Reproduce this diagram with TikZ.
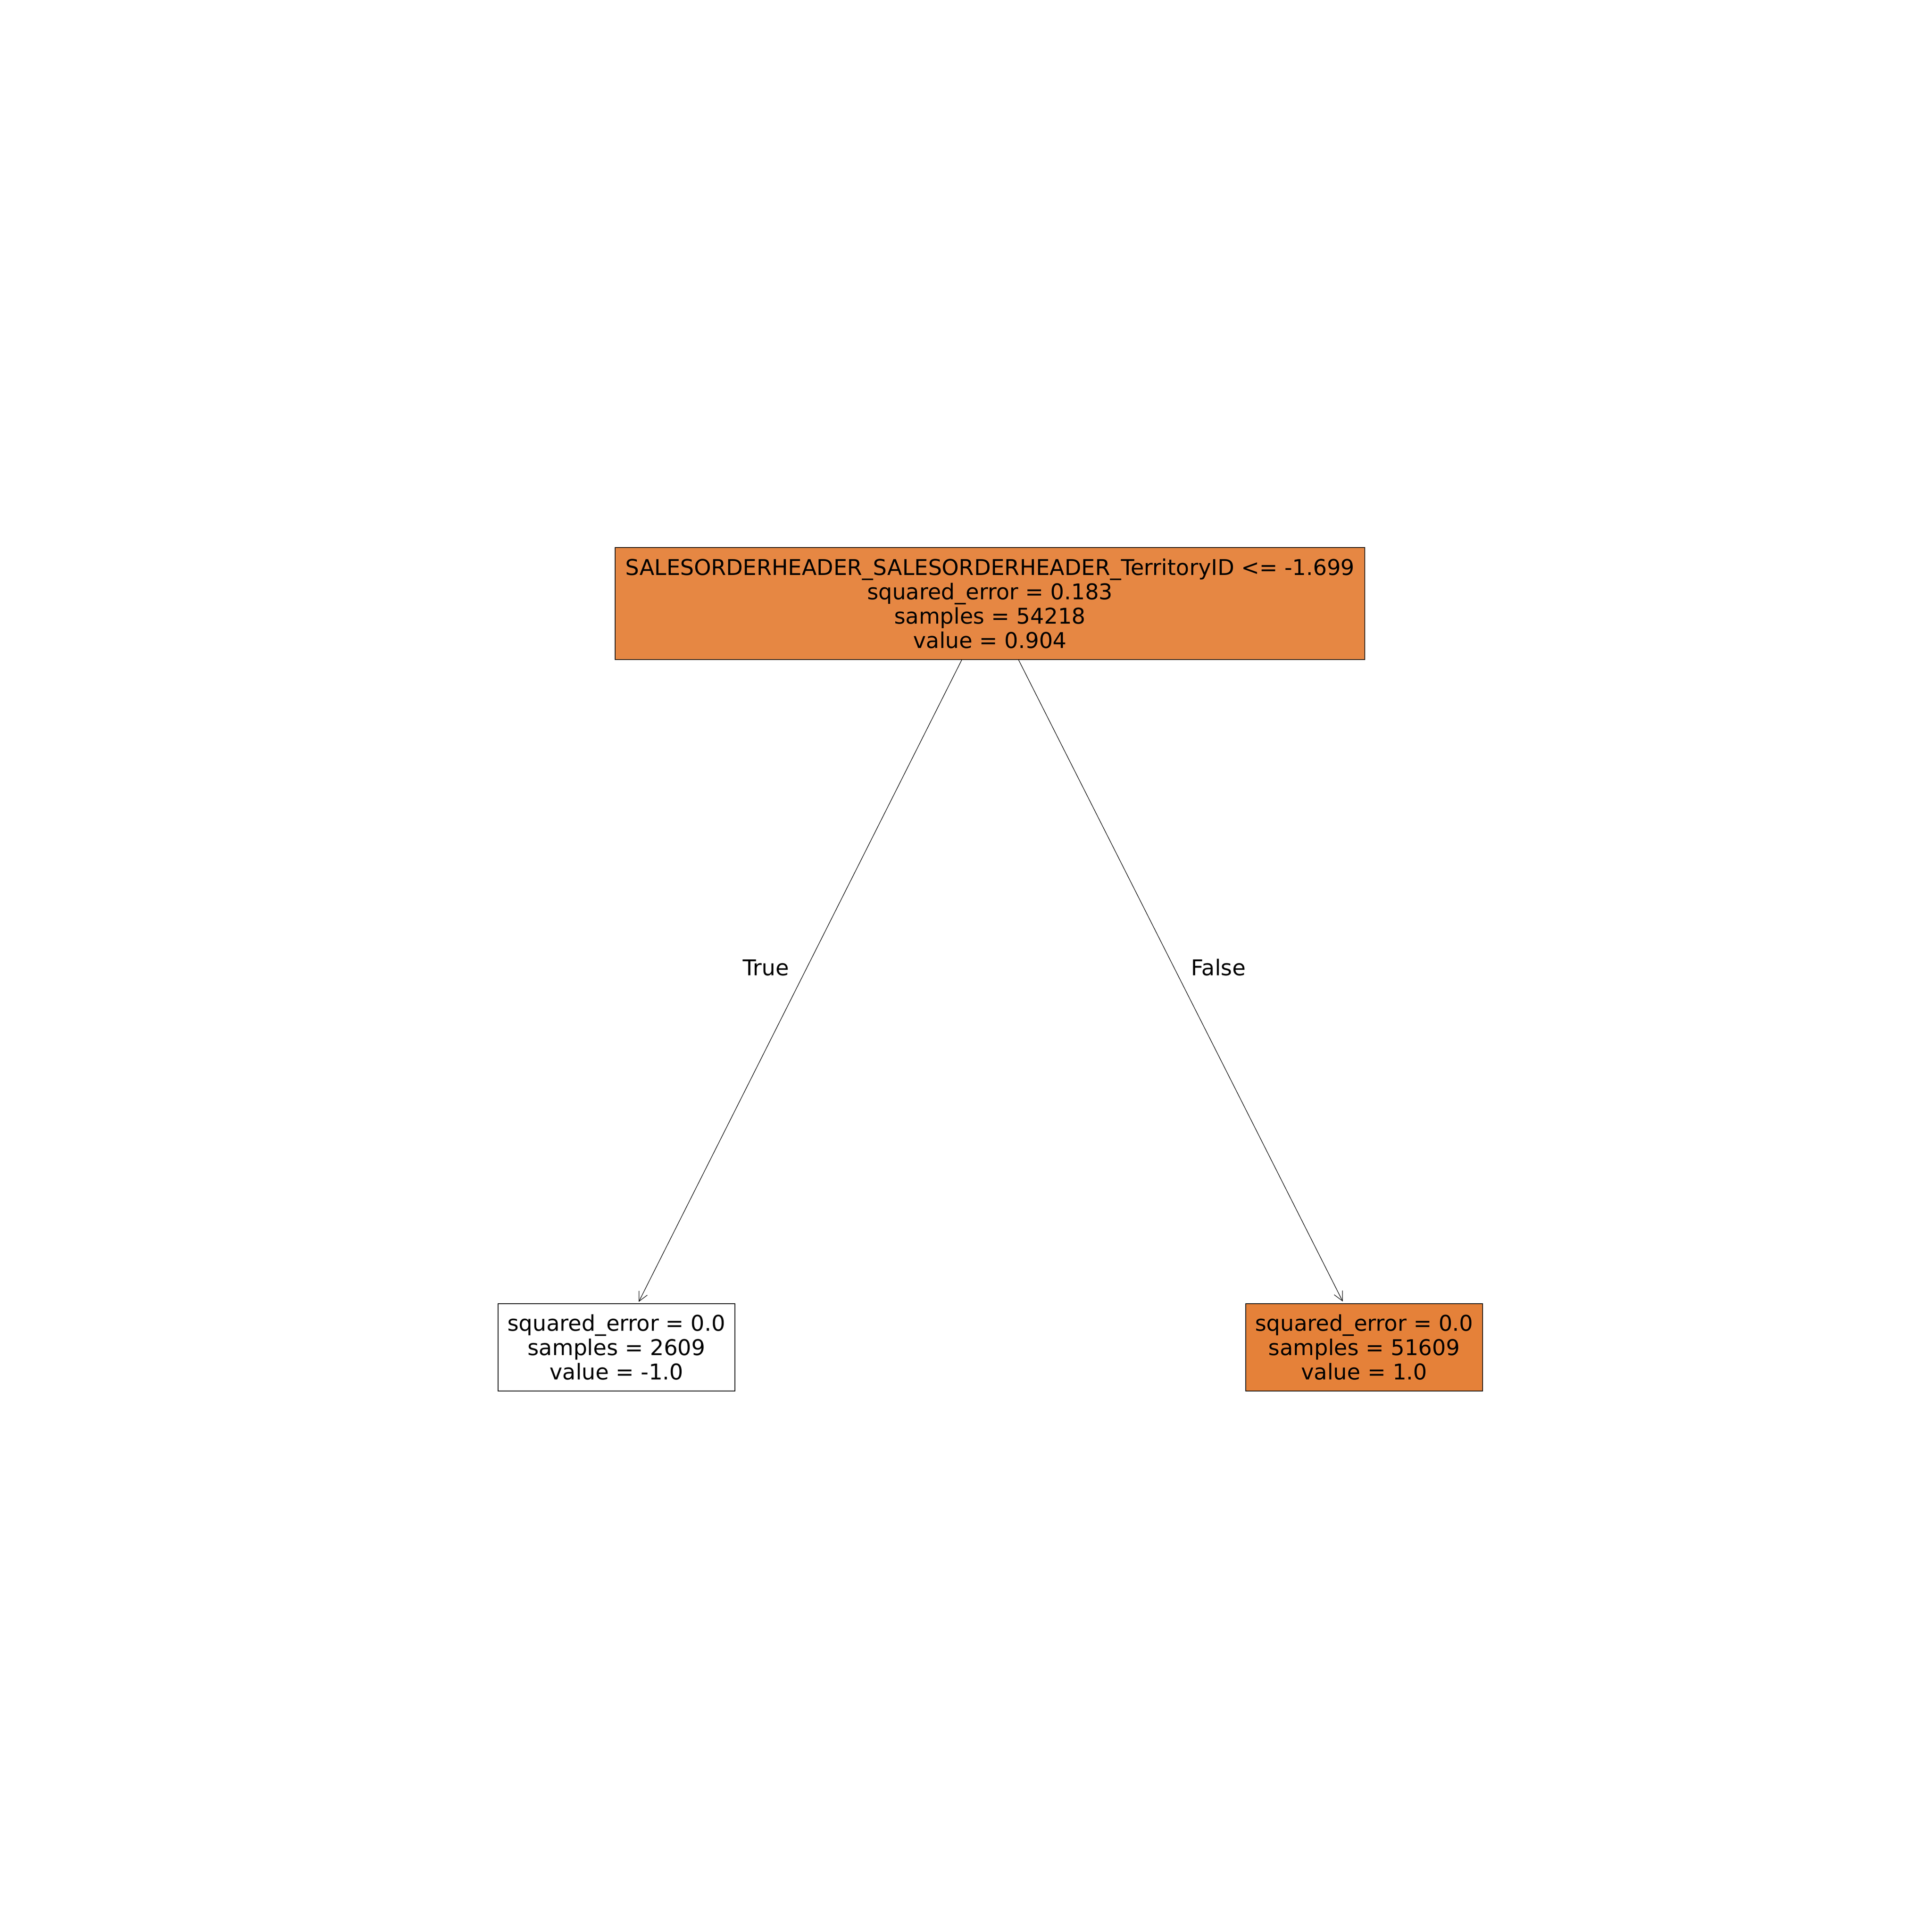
\documentclass[tikz,border=0pt]{standalone}
\usepackage{fontspec}
\setmainfont{DejaVu Sans}
\usetikzlibrary{arrows.meta,calc}
\definecolor{rootfill}{RGB}{230,135,67}
\definecolor{leaffill}{RGB}{229,129,57}
\tikzset{
  treebox/.style={draw=black, line width=0.45pt, rectangle, inner sep=0pt,
    align=center, font=\fontsize{16}{17.93}\selectfont},
  edgearrow/.style={draw=black, line width=0.4pt,
    -{Straight Barb[length=2.4mm,width=2.4mm,line width=0.4pt]}},
  edgelabel/.style={anchor=base, inner sep=0pt, font=\fontsize{16}{17.93}\selectfont}
}
\begin{document}
\begin{tikzpicture}
\useasboundingbox[fill=white] (0,0) rectangle (50,50);
\node[treebox, fill=rootfill, minimum width=19.4cm, minimum height=2.90cm] (root) at (25.62,34.38)
  {SALESORDERHEADER\_SALESORDERHEADER\_TerritoryID <= -1.699\\squared\_error = 0.183\\samples = 54218\\value = 0.904};
\node[treebox, fill=white, minimum width=6.13cm, minimum height=2.26cm] (L) at (15.955,15.13)
  {squared\_error = 0.0\\samples = 2609\\value = -1.0};
\node[treebox, fill=leaffill, minimum width=6.13cm, minimum height=2.26cm] (R) at (35.305,15.13)
  {squared\_error = 0.0\\samples = 51609\\value = 1.0};
\draw[edgearrow] ($(root.south)+(-0.73,0)$) -- ($(L.north)+(0.575,0.04)$);
\draw[edgearrow] ($(root.south)+(0.74,0)$) -- ($(R.north)+(-0.555,0.05)$);
\node[edgelabel] (true) at (19.82,24.75) {True};
\node[edgelabel] (false) at (31.53,24.75) {False};
\end{tikzpicture}
\end{document}
